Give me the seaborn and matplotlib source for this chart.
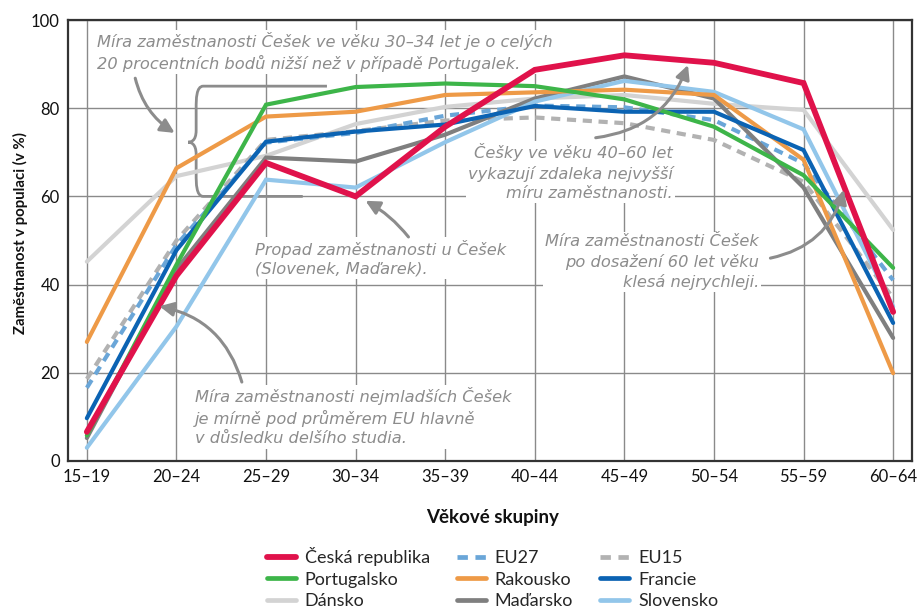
import matplotlib
matplotlib.use("Agg")
import matplotlib.pyplot as plt
import seaborn as sns
import pandas as pd
from matplotlib.path import Path
from matplotlib.patches import PathPatch
from matplotlib.lines import Line2D

sns.set_theme(style="white")
plt.rcParams['font.family'] = ['Lato', 'DejaVu Sans']

age_groups = ["15–19", "20–24", "25–29", "30–34", "35–39",
              "40–44", "45–49", "50–54", "55–59", "60–64"]

cz = [6.6, 42.0, 67.6, 60.0, 75.8, 88.7, 92.0, 90.3, 85.7, 33.8]
pt = [5.8, 44.5, 80.8, 84.8, 85.6, 85.0, 82.0, 75.8, 64.8, 43.8]
dk = [45.2, 64.6, 69.2, 76.4, 80.3, 82.2, 83.0, 81.0, 79.6, 52.4]
eu27 = [16.6, 49.0, 72.2, 74.4, 78.3, 80.6, 80.2, 77.3, 67.5, 41.0]
at = [27.0, 66.4, 78.1, 79.2, 83.0, 83.6, 84.2, 83.0, 68.3, 19.9]
hu = [5.2, 43.5, 68.8, 67.9, 74.0, 82.2, 87.2, 82.2, 62.0, 27.9]
eu15 = [18.6, 50.0, 72.8, 74.8, 77.2, 77.9, 76.6, 72.8, 63.3, 37.0]
fr = [9.7, 47.8, 72.4, 74.7, 76.3, 80.5, 79.2, 79.2, 70.5, 31.3]
sk = [3.0, 30.5, 63.8, 62.0, 72.3, 81.5, 86.2, 83.7, 75.2, 35.0]

series = [
    ("Dánsko", dk, "#d3d3d3", "-", 3.0),
    ("EU15", eu15, "#b2b2b2", (0, (2.2, 1.6)), 3.0),
    ("EU27", eu27, "#6aa6d8", (0, (2.2, 1.6)), 3.0),
    ("Maďarsko", hu, "#7f7f7f", "-", 3.0),
    ("Slovensko", sk, "#92c6ea", "-", 3.0),
    ("Rakousko", at, "#ee9a47", "-", 3.0),
    ("Francie", fr, "#0b63b3", "-", 3.0),
    ("Portugalsko", pt, "#3db549", "-", 3.0),
    ("Česká republika", cz, "#e0124b", "-", 4.2),
]

fig = plt.figure(figsize=(9.17, 6.10), dpi=100)
ax = fig.add_axes([0.0742, 0.2443, 0.9203, 0.7229])

xpos = list(range(len(age_groups)))
for name, vals, col, ls, lw in series:
    df = pd.DataFrame({"x": xpos, "y": vals})
    sns.lineplot(data=df, x="x", y="y", ax=ax, color=col, linewidth=lw,
                 linestyle=ls, solid_joinstyle="miter", zorder=3)

ax.set_xlim(-0.21, 9.21)
ax.set_ylim(0, 100)
ax.set_xticks(xpos)
ax.set_xticklabels(age_groups, fontsize=12)
ax.set_yticks([0, 20, 40, 60, 80, 100])
ax.set_yticklabels(["0", "20", "40", "60", "80", "100"], fontsize=12)
ax.tick_params(axis="both", length=0, pad=6, colors="#111111")
ax.grid(True, color="#8a8a8a", linewidth=1.0)
ax.set_axisbelow(True)
for s in ax.spines.values():
    s.set_color("#333333")
    s.set_linewidth(1.6)
ax.set_xlabel("")
ax.set_ylabel("")
fig.text(493 / 917, 1 - 517 / 610, "Věkové skupiny", fontsize=13.5, fontweight="bold",
         ha="center", va="center", color="#111111")
fig.text(20 / 917, 1 - 233 / 610, "Zaměstnanost v populaci (v %)", fontsize=10.8,
         fontweight="bold", ha="center", va="center", rotation=90, color="#111111")

gray = "#8c8c8c"
tkw = dict(color=gray, fontsize=11.7, style="italic", linespacing=1.35,
           family=["DejaVu Sans"], zorder=2,
           bbox=dict(facecolor="white", edgecolor="none", pad=1.5))

ax.text(0.11, 92.7, "Míra zaměstnanosti Češek ve věku 30–34 let je o celých\n"
        "20 procentních bodů nižší než v případě Portugalek.",
        ha="left", va="center", **tkw)
ax.text(6.54, 65.5, "Češky ve věku 40–60 let\nvykazují zdaleka nejvyšší\nmíru zaměstnanosti.",
        ha="right", va="center", multialignment="right", **tkw)
ax.text(1.88, 46.0, "Propad zaměstnanosti u Češek\n(Slovenek, Maďarek).",
        ha="left", va="center", **tkw)
ax.text(7.50, 45.1, "Míra zaměstnanosti Češek\npo dosažení 60 let věku\nklesá nejrychleji.",
        ha="right", va="center", multialignment="right", **tkw)
ax.text(1.21, 10.0, "Míra zaměstnanosti nejmladších Češek\nje mírně pod průměrem EU hlavně\nv důsledku delšího studia.",
        ha="left", va="center", **tkw)

akw = dict(arrowstyle="-|>,head_length=0.7,head_width=0.35", color=gray, lw=2.2,
           shrinkA=0, shrinkB=0)

def arrow(x0, y0, x1, y1, rad):
    ax.annotate("", xy=(x1, y1), xytext=(x0, y0),
                arrowprops=dict(connectionstyle=f"arc3,rad={rad}", **akw), zorder=6)

arrow(0.54, 86.8, 0.98, 74.4, 0.2)
arrow(5.68, 73.3, 6.71, 89.8, 0.3)
arrow(3.59, 50.8, 3.11, 59.0, 0.1)
arrow(7.63, 46.0, 8.45, 61.5, 0.3)
arrow(1.73, 17.9, 0.81, 35.1, 0.3)

# brace with guide lines
verts = [(2.68, 85.0), (1.30, 85.0),
         (1.22, 85.0), (1.22, 82.0), (1.22, 80.0),
         (1.22, 75.0),
         (1.22, 72.5), (1.16, 72.3), (1.13, 72.3),
         (1.16, 72.3), (1.22, 72.0), (1.22, 69.5),
         (1.22, 65.0),
         (1.22, 63.0), (1.22, 60.0), (1.30, 60.0),
         (2.41, 60.0)]
codes = [Path.MOVETO, Path.LINETO,
         Path.CURVE4, Path.CURVE4, Path.CURVE4,
         Path.LINETO,
         Path.CURVE4, Path.CURVE4, Path.CURVE4,
         Path.CURVE4, Path.CURVE4, Path.CURVE4,
         Path.LINETO,
         Path.CURVE4, Path.CURVE4, Path.CURVE4,
         Path.LINETO]
ax.add_patch(PathPatch(Path(verts, codes), facecolor="none", edgecolor=gray,
                       lw=2.0, zorder=2.5))

# legend
handles = []
labels = []
order = ["Česká republika", "Portugalsko", "Dánsko",
         "EU27", "Rakousko", "Maďarsko",
         "EU15", "Francie", "Slovensko"]
lookup = {n: (c, ls, lw) for n, _, c, ls, lw in series}
for n in order:
    c, ls, lw = lookup[n]
    handles.append(Line2D([0], [0], color=c, linestyle=ls,
                          linewidth=4.2 if n == "Česká republika" else 3.4))
    labels.append(n)
fig.legend(handles, labels, ncol=3, loc="lower center", bbox_to_anchor=(0.537, -0.025),
           frameon=False, fontsize=13, handlelength=1.6, columnspacing=1.5,
           labelspacing=0.3, handletextpad=0.5)

fig.savefig("out.png", dpi=100)
